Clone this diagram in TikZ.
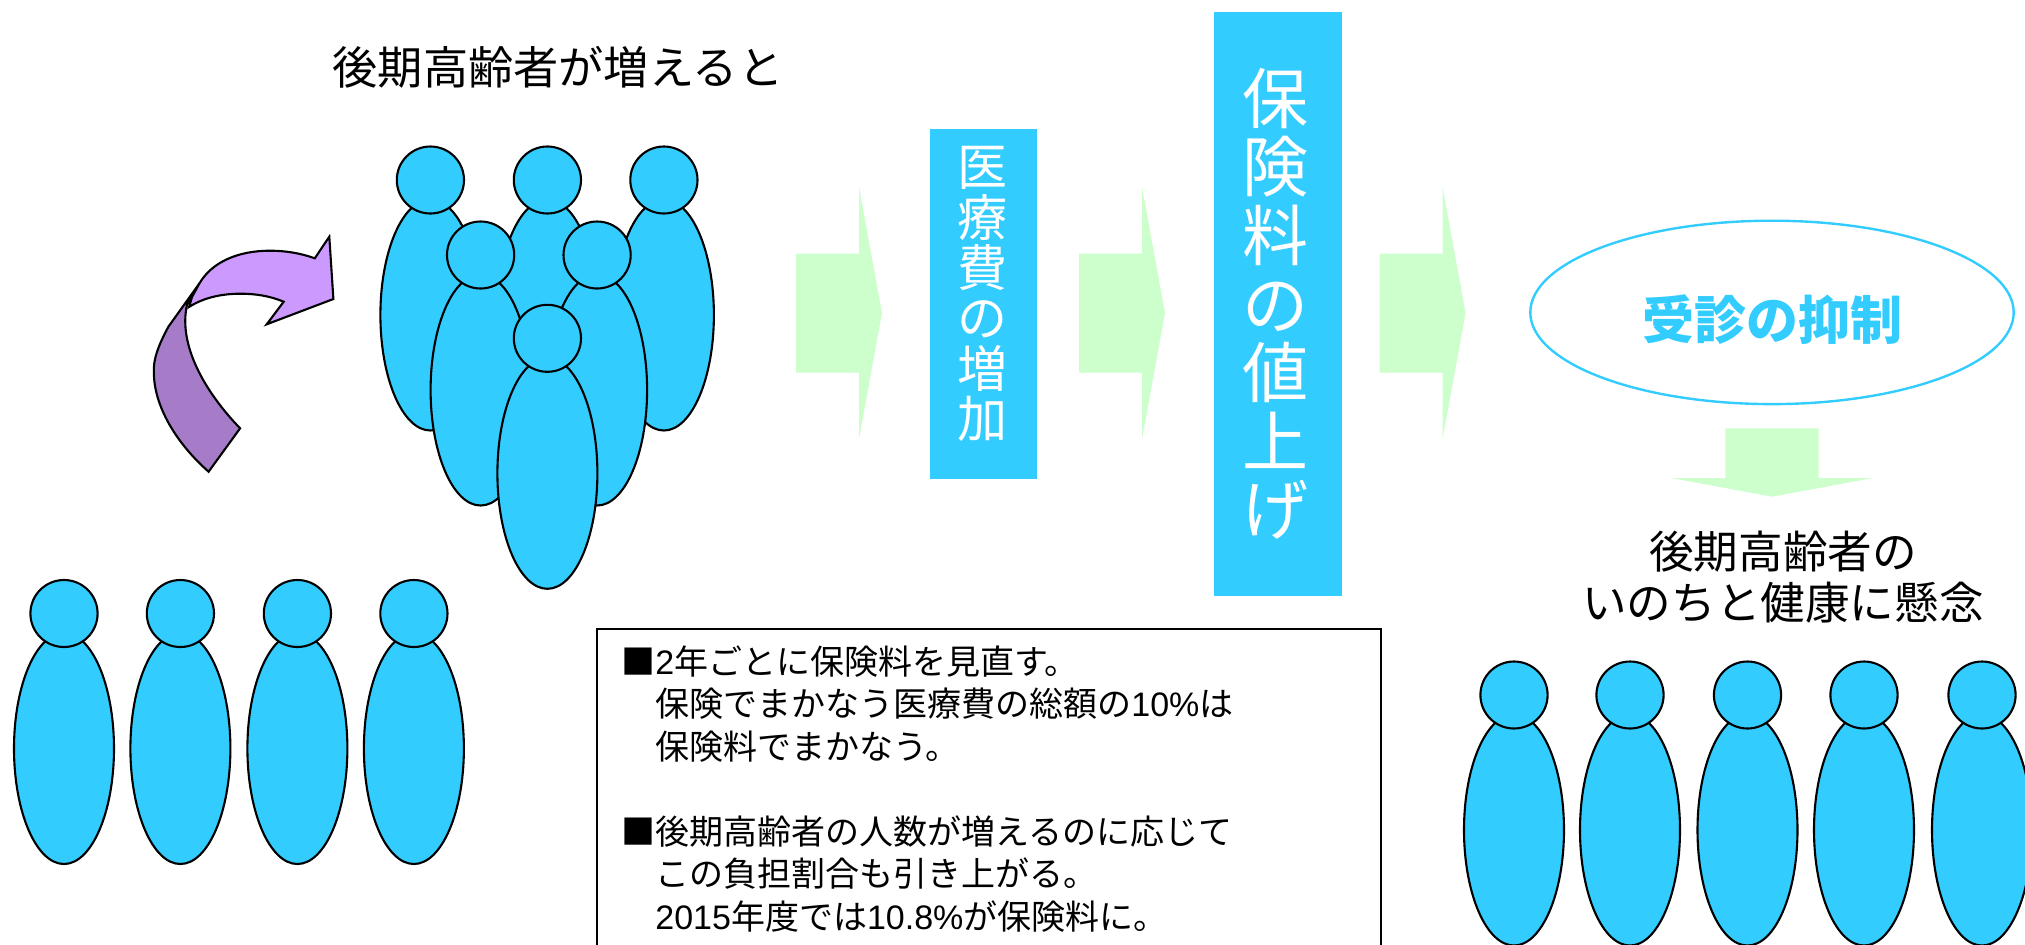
\documentclass[tikz,border=0pt]{standalone}
\usepackage{fontspec}
\setmainfont{Noto Sans CJK JP}
\newfontfamily\latinfont{Liberation Sans}
\usetikzlibrary{shapes.geometric}
\definecolor{elderblue}{HTML}{33CCFF}
\definecolor{flowgreen}{HTML}{CCFFCC}
\definecolor{curvelight}{HTML}{CC99FF}
\definecolor{curvedark}{HTML}{A67CC8}
\newcommand{\elder}{\draw[personline] (0,135) ellipse [x radius=50, y radius=115.5];
					\draw[personline] (0,0) ellipse [x radius=33.6, y radius=33.5];}
\newcommand{\flowcell}{\fill[flowgreen] (0,-59.5) -- (63,-59.5) -- (63,-126) -- (86,0) -- (63,126) -- (63,59.5) -- (0,59.5) -- cycle;}
\newcommand{\latn}[1]{{\latinfont #1}}
\tikzset{
	personline/.style = {draw=black, fill=elderblue, line width=1.05pt},
	bar/.style = {rectangle, fill=elderblue, inner sep=0pt},
	bartext/.style = {text=white, align=center, inner sep=0pt},
	blacktext/.style = {text=black, align=center, inner sep=0pt},
}
\begin{document}
\begin{tikzpicture}[x=0.5pt, y=-0.5pt]

					\useasboundingbox (0,0) rectangle (2025,944);
					\clip (0,0) rectangle (2025,944);

					\begin{scope}[shift={(430.4,180)}]
						\elder
					\end{scope}

					\begin{scope}[shift={(547.4,180)}]
						\elder
					\end{scope}

					\begin{scope}[shift={(663.9,180)}]
						\elder
					\end{scope}

					\begin{scope}[shift={(480.6,255)}]
						\elder
					\end{scope}

					\begin{scope}[shift={(597.1,255)}]
						\elder
					\end{scope}

					\begin{scope}[shift={(547.4,338.3)}]
						\elder
					\end{scope}

					\begin{scope}[shift={(64,613.5)}]
						\elder
					\end{scope}

					\begin{scope}[shift={(180.4,613.5)}]
						\elder
					\end{scope}

					\begin{scope}[shift={(297.4,613.5)}]
						\elder
					\end{scope}

					\begin{scope}[shift={(413.9,613.5)}]
						\elder
					\end{scope}

					\begin{scope}[shift={(1514,695)}]
						\elder
					\end{scope}

					\begin{scope}[shift={(1630,695)}]
						\elder
					\end{scope}

					\begin{scope}[shift={(1747.5,695)}]
						\elder
					\end{scope}

					\begin{scope}[shift={(1864,695)}]
						\elder
					\end{scope}

					\begin{scope}[shift={(1982,695)}]
						\elder
					\end{scope}

					\draw[fill=curvedark, line width=1.05pt] (199.5,283.3) -- (168.4,326.7) .. controls (158,346) and (153,360) .. (153.9,373) .. controls (154,405) and (175,442) .. (208.6,471.7) -- (240.1,428.3) .. controls (205,392) and (178,345) .. (187,305) -- cycle;
					\draw[fill=curvelight, line width=1.05pt] (192,297) -- (199.5,283.3) .. controls (212,262) and (238,250.7) .. (270,250.7) .. controls (285,250.7) and (300,253) .. (314.8,258.3) -- (329.3,236.7) -- (333.4,299) -- (266.7,324.3) -- (283.7,301.7) .. controls (270,296) and (255,293.5) .. (238.9,293.7) .. controls (220,294) and (203,298) .. (189,307) -- cycle;

					\begin{scope}[shift={(796,313)}]
						\flowcell
					\end{scope}

					\begin{scope}[shift={(1079,313)}]
						\flowcell
					\end{scope}

					\begin{scope}[shift={(1379.6,313)}]
						\flowcell
					\end{scope}

					\begin{scope}[shift={(1772,428.3)}, rotate=-90]
						\fill[flowgreen] (0,-46.6) -- (49.7,-46.6) -- (49.7,-100.6) -- (68.4,0) -- (49.7,100.6) -- (49.7,46.6) -- (0,46.6) -- cycle;
					\end{scope}

					\node (title) [blacktext, font=\fontsize{22.6}{26}\selectfont] at (558,67) {後期高齢者が増えると};

					\node (costbar) [bar, minimum width=53.5pt, minimum height=175pt] at (983.5,304) {};
					\node (costtext) [bartext, font=\fontsize{25}{25.2}\selectfont] at (982,294) {医\\療\\費\\の\\増\\加};

					\node (premiumbar) [bar, minimum width=64pt, minimum height=292pt] at (1278,304) {};
					\node (premiumtext) [bartext, font=\fontsize{33}{34.3}\selectfont] at (1275.6,304) {保\\険\\料\\の\\値\\上\\げ};

					\node (restraint) [ellipse, draw=elderblue, line width=1.2pt, minimum width=241.7pt, minimum height=91.7pt, inner sep=0pt] at (1772,312.4) {};
					\node (restrainttext) [inner sep=0pt, text=elderblue, font=\fontsize{26}{30}\selectfont\bfseries] at (1772,320) {受診の抑制};

					\node (concern) [blacktext, font=\fontsize{22.3}{25.5}\selectfont] at (1783,577) {後期高齢者の\\いのちと健康に懸念};

					\draw[line width=1.05pt, draw=black] (597,1000) -- (597,629) -- (1381,629) -- (1381,1000);
					\node (notes) [inner sep=0pt, align=left, anchor=north west, font=\fontsize{17}{21.25}\selectfont] at (621,645) {■\latn{2}年ごとに保険料を見直す。\\
						\hspace*{1em}保険でまかなう医療費の総額の\latn{10\%}は\\
						\hspace*{1em}保険料でまかなう。\\
						\mbox{}\\
						■後期高齢者の人数が増えるのに応じて\\
						\hspace*{1em}この負担割合も引き上がる。\\
						\hspace*{1em}\latn{2015}年度では\latn{10.8\%}が保険料に。};

				\end{tikzpicture}
\end{document}
